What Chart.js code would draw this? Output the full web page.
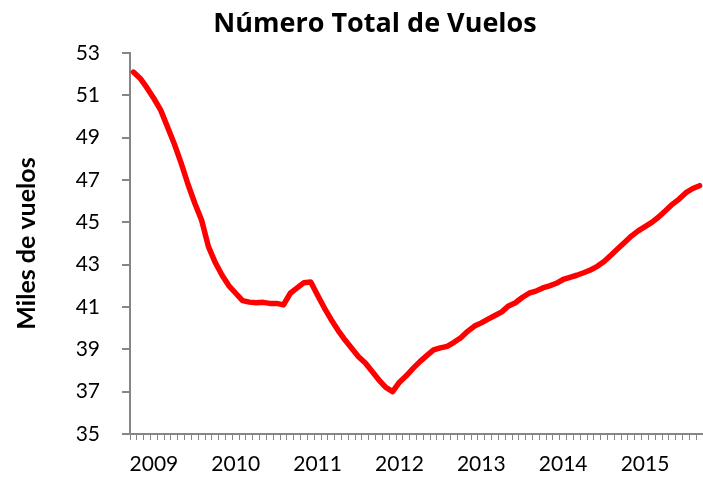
<!DOCTYPE html>
<html>
<head>
<meta charset="utf-8">
<script src="https://cdn.jsdelivr.net/npm/chart.js@4"></script>
<style>
  html, body { margin: 0; padding: 0; background: #fff; }
</style>
</head>
<body>
<canvas id="vuelosChart" width="703" height="480"></canvas>
<script>
// Months Oct 2008 .. Sep 2015 (84 categories)
const months = [];
for (let y = 2008; y <= 2015; y++) {
    for (let m = 1; m <= 12; m++) {
        if ((y === 2008 && m < 10) || (y === 2015 && m > 9)) continue;
        months.push(y + '-' + String(m).padStart(2, '0'));
    }
}

// Miles de vuelos (12-month total)
const vuelos = [
    52.1, 51.8, 51.35, 50.85, 50.3, 49.5, 48.7, 47.8, 46.8, 45.9, 45.1, 43.85,
    43.1, 42.5, 42.0, 41.65, 41.3, 41.23, 41.2, 41.22, 41.17, 41.17, 41.1, 41.65,
    41.9, 42.15, 42.18, 41.55, 40.95, 40.4, 39.9, 39.45, 39.05, 38.65, 38.35, 37.95,
    37.55, 37.2, 37.0, 37.45, 37.75, 38.1, 38.42, 38.7, 38.97, 39.07, 39.14, 39.33,
    39.55, 39.85, 40.1, 40.25, 40.43, 40.6, 40.77, 41.05, 41.2, 41.45, 41.65, 41.75,
    41.9, 42.0, 42.12, 42.3, 42.4, 42.5, 42.62, 42.75, 42.92, 43.15, 43.45, 43.75,
    44.05, 44.35, 44.6, 44.8, 45.0, 45.25, 45.55, 45.85, 46.1, 46.4, 46.6, 46.73
];

const yMin = 35;
const yMax = 53;
const yStep = 2;

const chartTitle = 'Número Total de Vuelos';
const axisGray = '#868686';
const fontFamily = 'Lato, "Open Sans", sans-serif';

// title sits a bit right of canvas centre, like the original
const titlePlugin = {
    id: 'offsetTitle',
    afterDraw(chart) {
        const c = chart.ctx;
        c.save();
        c.font = 'bold 27px "Open Sans", Lato, sans-serif';
        c.fillStyle = '#000';
        c.textAlign = 'center';
        c.textBaseline = 'middle';
        c.fillText(chartTitle, 375, 24);
        c.restore();
    }
};

const ctx = document.getElementById('vuelosChart');
new Chart(ctx, {
    type: 'line',
    data: {
        labels: months,
        datasets: [{
            label: chartTitle,
            data: vuelos,
            borderColor: '#ff0000',
            borderWidth: 5.5,
            borderJoinStyle: 'round',
            borderCapStyle: 'round',
            pointRadius: 0,
            tension: 0,
            fill: false
        }]
    },
    options: {
        responsive: false,
        animation: false,
        layout: { padding: { left: 0, right: 0, top: 53, bottom: 0 } },
        scales: {
            x: {
                type: 'category',
                offset: true,
                grid: {
                    offset: true,
                    drawOnChartArea: false,
                    drawTicks: true,
                    tickLength: 6,
                    color: axisGray,
                    lineWidth: 1
                },
                border: { display: true, color: axisGray, width: 2 },
                ticks: {
                    autoSkip: false,
                    maxRotation: 0,
                    minRotation: 0,
                    padding: 12,
                    color: '#000',
                    font: { family: fontFamily, size: 21 },
                    callback: function (value, index) {
                        const lab = this.getLabelForValue(value);
                        return lab.endsWith('-01') ? lab.slice(0, 4) : '';
                    }
                },
                afterFit: (scale) => {
                    scale.height = 46;
                    scale.paddingLeft = 0;
                    scale.paddingRight = 0;
                }
            },
            y: {
                min: yMin,
                max: yMax,
                grid: {
                    drawOnChartArea: false,
                    drawTicks: true,
                    tickLength: 8,
                    color: axisGray,
                    lineWidth: 2
                },
                border: { display: true, color: axisGray, width: 2 },
                ticks: {
                    stepSize: yStep,
                    padding: 22,
                    color: '#000',
                    font: { family: fontFamily, size: 21 }
                },
                title: {
                    display: true,
                    text: 'Miles de vuelos',
                    color: '#000',
                    font: { family: fontFamily, size: 25, weight: 'bold' },
                    padding: { top: 12, bottom: 0 }
                },
                afterFit: (scale) => {
                    scale.width = 130;
                    scale.paddingTop = 0;
                }
            }
        },
        plugins: {
            legend: { display: false },
            tooltip: { enabled: false },
            title: { display: false }
        }
    },
    plugins: [titlePlugin]
});
</script>
</body>
</html>
